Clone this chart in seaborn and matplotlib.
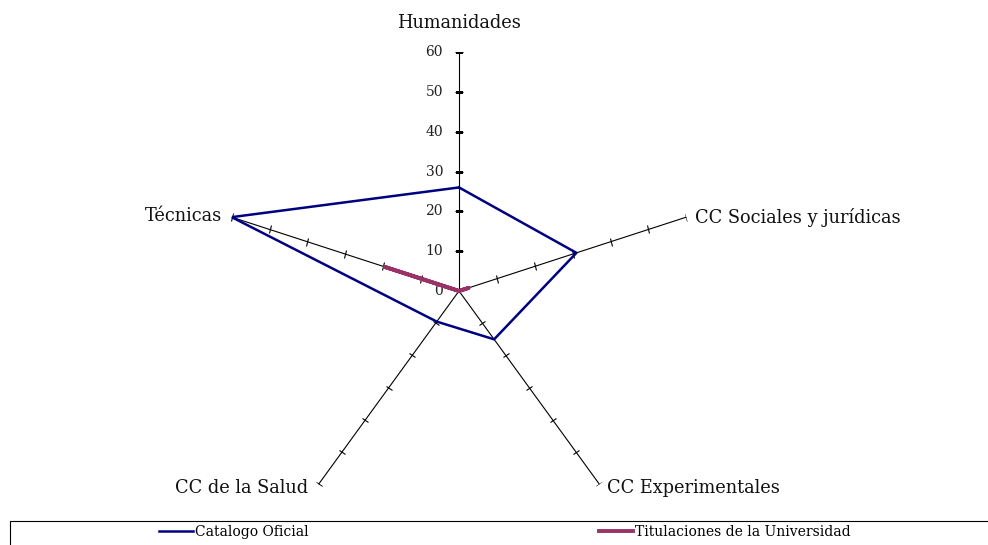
import numpy as np
import pandas as pd
import matplotlib
matplotlib.use("Agg")
import matplotlib.pyplot as plt
from matplotlib.markers import MarkerStyle
from matplotlib.transforms import Affine2D
from matplotlib.lines import Line2D
from matplotlib.patches import Rectangle
import seaborn as sns

categories = ["Humanidades", "CC Sociales y jurídicas", "CC Experimentales",
              "CC de la Salud", "Técnicas"]
catalogo = [26, 31, 15, 9.5, 60]
titulaciones = [0, 2.5, 0, 0, 19.5]
series_names = ["Catalogo Oficial", "Titulaciones de la Universidad"]
tick_values = [0, 10, 20, 30, 40, 50, 60]

plt.rcParams["font.family"] = ["DejaVu Serif"]

W, H = 988, 545
fig = plt.figure(figsize=(W / 100, H / 100), dpi=100)
cx, cy, R = 459, 291, 239
ax = fig.add_axes([(cx - R) / W, (H - cy - R) / H, 2 * R / W, 2 * R / H],
                  projection="polar")
ax.set_theta_zero_location("N")
ax.set_theta_direction(-1)
ax.set_ylim(0, 60)
ax.grid(False)
ax.spines["polar"].set_visible(False)
ax.set_xticks([])
ax.set_yticks([])
ax.patch.set_alpha(0)

n = len(categories)
angles = np.arange(n) * 2 * np.pi / n

# spokes with tick marks
for i, th in enumerate(angles):
    ax.plot([th, th], [0, 60], color="black", lw=0.8, zorder=1)
    screen_deg = 90 - np.degrees(th)
    if i == 0:
        mk = "_"
    else:
        mk = MarkerStyle("|", transform=Affine2D().rotate_deg(screen_deg))
    ax.plot([th] * 6, tick_values[1:], linestyle="none", marker=mk,
            markersize=6, markeredgewidth=0.8, color="black", zorder=1)

# tick labels on the first spoke
for v in tick_values:
    ax.annotate(str(v), xy=(0, v), xytext=(-16, 0), textcoords="offset pixels",
                ha="right", va="center", fontsize=10, color="#222222")

# category labels
offsets = [((0, 29), "center"), ((9, 0), "left"), ((8, -4), "left"),
           ((-10, -4), "right"), ((-10, 1), "right")]
for th, lab, (off, ha) in zip(angles, categories, offsets):
    ax.annotate(lab, xy=(th, 60), xytext=off, textcoords="offset pixels",
                ha=ha, va="center", fontsize=12.8, color="#111111")

theta_closed = np.append(angles, 2 * np.pi)
df1 = pd.DataFrame({"theta": theta_closed, "r": catalogo + catalogo[:1]})
df2 = pd.DataFrame({"theta": theta_closed, "r": titulaciones + titulaciones[:1]})
col1, col2 = "#000080", "#993366"
sns.lineplot(data=df1, x="theta", y="r", sort=False, estimator=None, ax=ax,
             color=col1, lw=1.8, zorder=3)
sns.lineplot(data=df2, x="theta", y="r", sort=False, estimator=None, ax=ax,
             color=col2, lw=2.8, zorder=4)
ax.set_xlabel("")
ax.set_ylabel("")
ax.set_ylim(0, 60)

# legend box
fig.patches.append(Rectangle((9.5 / W, -0.01), 1.0, 24.5 / H + 0.01,
                             transform=fig.transFigure, fill=False,
                             edgecolor="black", lw=0.8))
for (x0, name, col, lw) in [(159, series_names[0], col1, 1.8),
                            (599, series_names[1], col2, 2.8)]:
    h = Line2D([], [], color=col, lw=lw)
    fig.legend(handles=[h], labels=[name], loc="center left",
               bbox_to_anchor=(x0 / W, 1 - 532 / H), frameon=False,
               borderpad=0, borderaxespad=0, handletextpad=0.12,
               handlelength=2.45, prop={"family": "DejaVu Serif", "size": 10})

fig.savefig("out.png", dpi=100)
